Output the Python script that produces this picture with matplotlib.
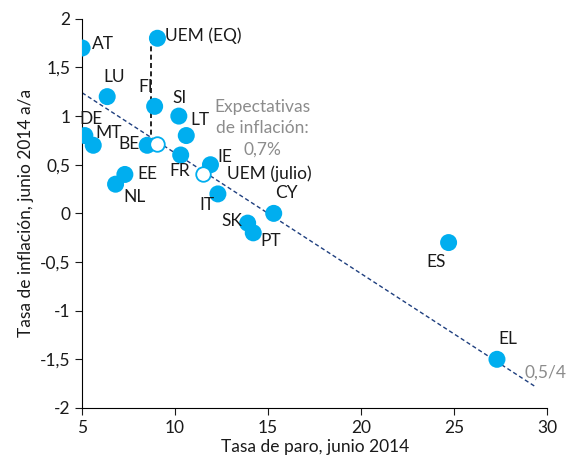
import matplotlib
matplotlib.use("Agg")
import matplotlib.pyplot as plt
import numpy as np

plt.rcParams['font.family'] = ['Lato', 'DejaVu Sans']

# countries: unemployment rate (x) vs inflation (y), June 2014
countries = ['AT', 'UEM (EQ)', 'LU', 'FI', 'SI', 'LT', 'DE', 'MT', 'BE', 'FR',
             'IE', 'EE', 'NL', 'IT', 'CY', 'SK', 'PT', 'ES', 'EL']
paro = [5.0, 9.05, 6.35, 8.9, 10.2, 10.6, 5.15, 5.6, 8.5, 10.3,
        11.9, 7.3, 6.8, 12.3, 15.3, 13.9, 14.2, 24.7, 27.3]
inflacion = [1.7, 1.8, 1.2, 1.1, 1.0, 0.8, 0.8, 0.7, 0.7, 0.6,
             0.5, 0.4, 0.3, 0.2, 0.0, -0.1, -0.2, -0.3, -1.5]

# open circles: EQ expectations and euro area july
open_labels = ['', 'UEM (julio)']
open_paro = [9.05, 11.5]
open_infl = [0.71, 0.4]

# trend line y = a + b*x
trend_a = 1.86
trend_b = -0.124
trend_x = [5.0, 29.35]

# grey note, one line per entry
nota = ['Expectativas', 'de inflación:', '0,7%']

# label offsets in pixels (dx, dy, ha)
offsets = {
    'AT': (10, 4, 'left'), 'UEM (EQ)': (8, 3, 'left'), 'LU': (-4, 20, 'left'),
    'FI': (-16, 19, 'left'), 'SI': (-6, 18, 'left'), 'LT': (4, 16, 'left'),
    'DE': (-5, 17, 'left'), 'MT': (2, 12, 'left'), 'BE': (-8, 1, 'right'),
    'FR': (-11, -16, 'left'), 'IE': (7, 8, 'left'), 'EE': (13, 0, 'left'),
    'NL': (8, -13, 'left'), 'IT': (-19, -11, 'left'), 'CY': (1, 20, 'left'),
    'SK': (-5, 2, 'right'), 'PT': (7, -8, 'left'), 'ES': (-22, -19, 'left'),
    'EL': (1, 20, 'left'), 'UEM (julio)': (24, 1, 'left'),
}

blue = '#00AEEF'
grey = '#8c8c8c'

fig = plt.figure(figsize=(5.7, 4.7), dpi=100)
ax = fig.add_axes([0.144, 0.132, 0.816, 0.828])

# vertical dashed line from EQ to expectations
ax.plot([8.7, 8.7], [1.8, 0.75], color='black', linestyle=(0, (3, 2)), linewidth=1.2, zorder=1)

tx = np.array(trend_x)
ax.plot(tx, trend_a + trend_b * tx, color='#1F3F7F', linestyle=(0, (3, 2)), linewidth=1.0, zorder=1)

ax.scatter(paro, inflacion, s=150, color=blue, edgecolors='none', zorder=3)
ax.scatter(open_paro, open_infl, s=110, facecolors='white', edgecolors=blue, linewidths=1.3, zorder=3)

for name, x, y in zip(countries, paro, inflacion):
    dx, dy, ha = offsets[name]
    ax.annotate(name, (x, y), xytext=(dx, dy), textcoords='offset pixels',
                ha=ha, va='center', fontsize=12.5, color='#1a1a1a')
for name, x, y in zip(open_labels, open_paro, open_infl):
    if name:
        dx, dy, ha = offsets[name]
        ax.annotate(name, (x, y), xytext=(dx, dy), textcoords='offset pixels',
                    ha=ha, va='center', fontsize=12.5, color='#1a1a1a')

for i, line in enumerate(nota):
    ax.annotate(line, (14.7, 1.09), xytext=(0, -21 * i), textcoords='offset pixels',
                ha='center', va='center', fontsize=12.5, color=grey)
ax.text(28.8, -1.64, '0,5/4', ha='left', va='center', fontsize=12.5, color=grey,
        clip_on=False)

ax.set_xlim(5, 30)
ax.set_ylim(-2, 2)
ax.set_xticks([5, 10, 15, 20, 25, 30])
yt = np.arange(-2, 2.01, 0.5)
ax.set_yticks(yt)
ax.set_yticklabels([('%g' % v).replace('.', ',') for v in yt])
ax.tick_params(direction='out', length=5, labelsize=12.5, colors='#1a1a1a')
for s in ['top', 'right']:
    ax.spines[s].set_visible(False)
ax.set_xlabel('Tasa de paro, junio 2014', fontsize=12.5, labelpad=2, color='#1a1a1a')
ax.set_ylabel('Tasa de inflación, junio 2014 a/a', fontsize=12.5, labelpad=4, color='#1a1a1a')

fig.savefig('out.png', dpi=100)
